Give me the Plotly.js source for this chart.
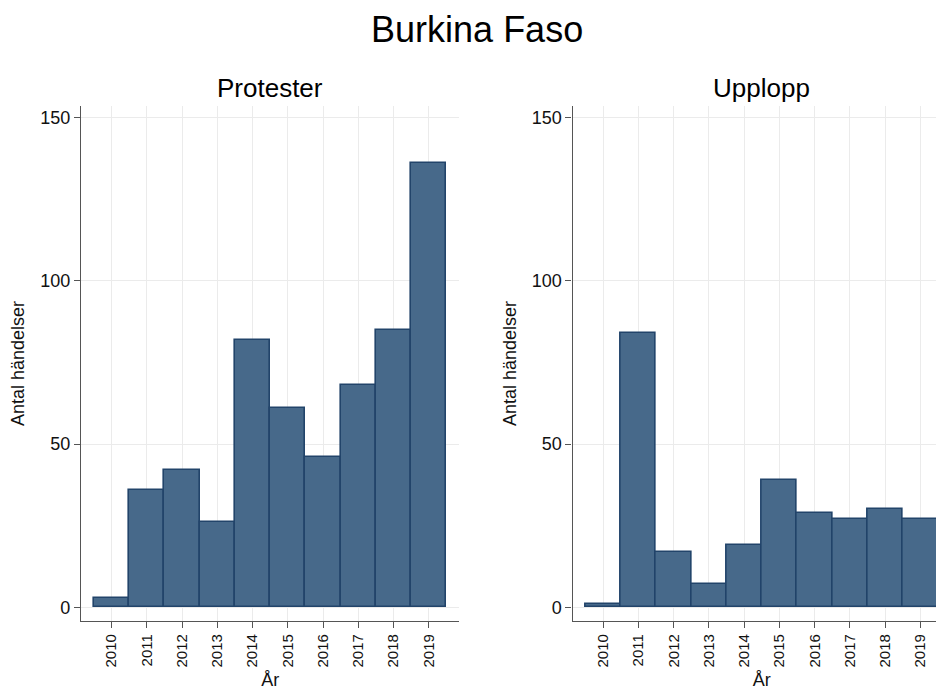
<!DOCTYPE html>
<html>
<head>
<meta charset="utf-8">
<script src="https://cdn.plot.ly/plotly-3.0.1.min.js"></script>
<style>
  html, body { margin: 0; padding: 0; overflow: hidden; background: #fff; }
  #graph { width: 960px; height: 690px; }
</style>
</head>
<body>
<div id="graph"></div>
<script>
const years = [2010, 2011, 2012, 2013, 2014, 2015, 2016, 2017, 2018, 2019];
const protester = [3, 36, 42, 26, 82, 61, 46, 68, 85, 136];
const upplopp = [1, 84, 17, 7, 19, 39, 29, 27, 30, 27];
const panelTitles = ['Protester', 'Upplopp'];

const font = 'Liberation Sans, Arial, sans-serif';
const barFill = '#47698a';
const barEdge = '#22446a';

function barTrace(values, xa, ya) {
  return {
    type: 'bar',
    x: years,
    y: values,
    xaxis: xa,
    yaxis: ya,
    width: 1,
    marker: { color: barFill, line: { color: barEdge, width: 1.6 } },
    hoverinfo: 'x+y',
    showlegend: false
  };
}

function xAxis(domain, anchor) {
  return {
    domain: domain,
    anchor: anchor,
    range: [2009.134, 2019.866],
    tickvals: years,
    ticktext: years.map(String),
    tickangle: -90,
    ticks: 'outside',
    ticklen: 6,
    tickcolor: '#555',
    tickfont: { family: font, size: 15, color: '#111' },
    showline: true,
    linecolor: '#555',
    linewidth: 1.3,
    showgrid: true,
    gridcolor: '#ebebeb',
    zeroline: false,
    title: { text: 'År', font: { family: font, size: 18, color: '#111' }, standoff: 8 }
  };
}

function yAxis(anchor) {
  return {
    anchor: anchor,
    domain: [0, 1],
    range: [-4.2, 153.6],
    tickvals: [0, 50, 100, 150],
    ticks: 'outside',
    ticklen: 6,
    tickcolor: '#555',
    tickfont: { family: font, size: 18, color: '#111' },
    showline: true,
    linecolor: '#555',
    linewidth: 1.3,
    showgrid: true,
    gridcolor: '#ebebeb',
    zeroline: false,
    title: { text: 'Antal händelser', font: { family: font, size: 18, color: '#111' }, standoff: 10 }
  };
}

const leftDomain = [0, 0.4349];
const rightDomain = [0.5651, 1];

const data = [
  barTrace(protester, 'x', 'y'),
  barTrace(upplopp, 'x2', 'y2')
];

const layout = {
  width: 960,
  height: 690,
  margin: { l: 80.5, r: 9.4, t: 105.5, b: 69.3 },
  paper_bgcolor: '#fff',
  plot_bgcolor: '#fff',
  bargap: 0,
  font: { family: font, color: '#111' },
  title: {
    text: 'Burkina Faso',
    font: { family: font, size: 36, color: '#000' },
    xref: 'container', x: 0.497, xanchor: 'center',
    yref: 'container', y: 0.958, yanchor: 'middle'
  },
  xaxis: xAxis(leftDomain, 'y'),
  yaxis: yAxis('x'),
  xaxis2: xAxis(rightDomain, 'y2'),
  yaxis2: yAxis('x2'),
  annotations: panelTitles.map((t, i) => ({
    text: t,
    xref: 'paper', yref: 'paper',
    x: i === 0 ? leftDomain[1] / 2 : (rightDomain[0] + rightDomain[1]) / 2,
    y: 1.035, xanchor: 'center', yanchor: 'middle',
    showarrow: false,
    font: { family: font, size: 26, color: '#000' }
  }))
};

Plotly.newPlot('graph', data, layout, { displayModeBar: false, responsive: false });
</script>
</body>
</html>
